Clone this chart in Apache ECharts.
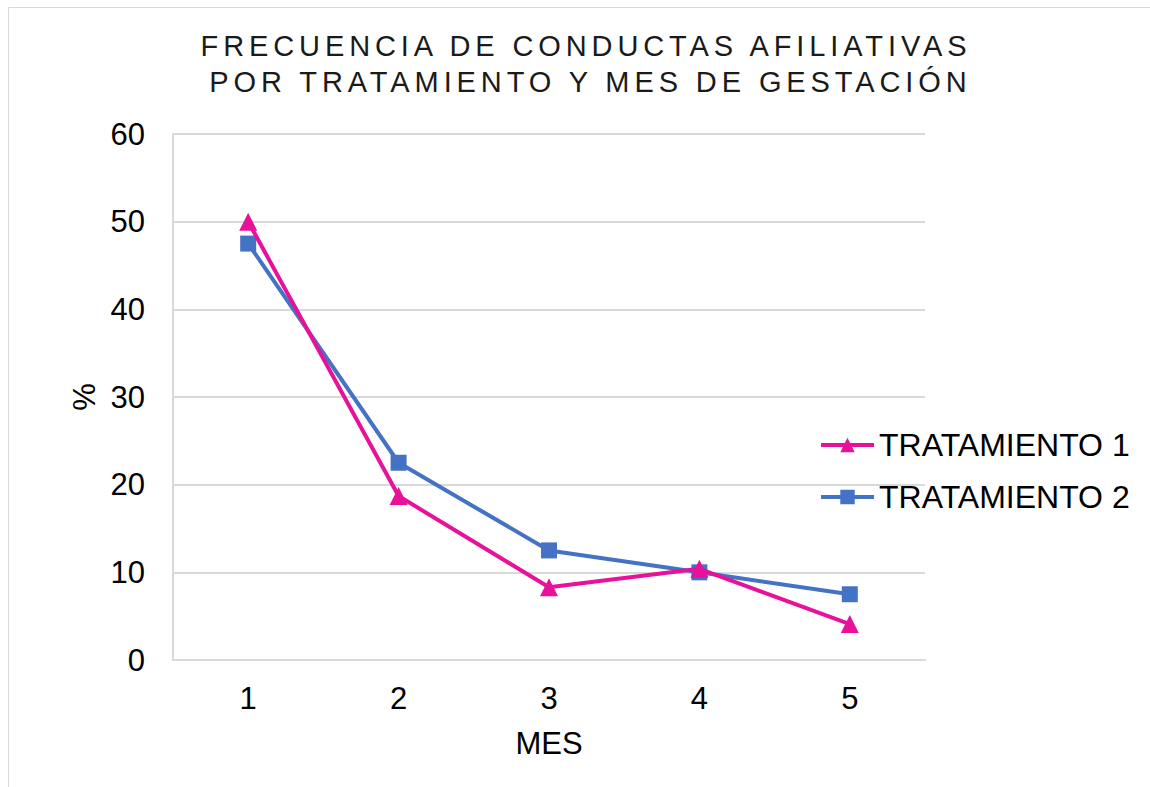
<!DOCTYPE html>
<html><head><meta charset="utf-8">
<script src="https://cdn.jsdelivr.net/npm/echarts@6/dist/echarts.min.js"></script>
<style>html,body{margin:0;padding:0;background:#fff}#c{width:1150px;height:787px}</style>
</head><body><div id="c"></div>
<script>
const categories = ['1','2','3','4','5'];
const tratamiento1 = [50, 18.7, 8.3, 10.4, 4.1];
const tratamiento2 = [47.5, 22.5, 12.5, 10, 7.5];
const seriesNames = ['TRATAMIENTO 1','TRATAMIENTO 2'];
const titleLines = ['FRECUENCIA DE CONDUCTAS AFILIATIVAS', ' POR TRATAMIENTO Y MES DE GESTACIÓN'];

const font = 'Liberation Sans, Arial, sans-serif';
const chart = echarts.init(document.getElementById('c'), null, {renderer:'svg'});
chart.setOption({
  animation:false,
  backgroundColor:'#fff',
  graphic:[
    {type:'rect', shape:{x:8.5,y:7.5,width:1160,height:800}, style:{fill:'none', stroke:'#d9d9d9', lineWidth:1}, silent:true},
    {type:'text', x:586, y:46, style:{text:titleLines[0], fontFamily:font, fontSize:29, fill:'#1a1a1a', align:'center', verticalAlign:'middle'}},
    {type:'text', x:584, y:81.5, style:{text:titleLines[1], fontFamily:font, fontSize:29, fill:'#1a1a1a', align:'center', verticalAlign:'middle'}}
  ],
  grid:{left:173, right:225, top:134, bottom:127, containLabel:false},
  legend:{orient:'vertical', left:814, top:424, itemWidth:53, itemHeight:18, itemGap:20,
    lineStyle:{width:4},
    textStyle:{fontFamily:font, fontSize:32, color:'#000'}, data:seriesNames},
  xAxis:{type:'category', data:categories, boundaryGap:true,
    name:'MES', nameLocation:'middle', nameGap:68, nameTextStyle:{fontFamily:font, fontSize:31, color:'#000'},
    axisLine:{lineStyle:{color:'#d9d9d9', width:2}}, axisTick:{show:false},
    axisLabel:{fontFamily:font, fontSize:31, color:'#000', margin:23}},
  yAxis:{type:'value', min:0, max:60, interval:10,
    name:'%', nameLocation:'middle', nameGap:73, nameRotate:90, nameTextStyle:{fontFamily:font, fontSize:31, color:'#000'},
    axisLine:{show:true, lineStyle:{color:'#d9d9d9', width:2}}, axisTick:{show:false},
    splitLine:{lineStyle:{color:'#d9d9d9', width:2}},
    axisLabel:{fontFamily:font, fontSize:31, color:'#000', margin:28}},
  series:[
    {name:seriesNames[0], type:'line', data:tratamiento1, symbol:'triangle', symbolSize:18,
      lineStyle:{color:'#E8119A', width:4}, itemStyle:{color:'#E8119A'}, z:3},
    {name:seriesNames[1], type:'line', data:tratamiento2, symbol:'rect', symbolSize:16,
      lineStyle:{color:'#4472C4', width:4}, itemStyle:{color:'#4472C4'}, z:2}
  ]
});
// widen title letter spacing like the reference
document.querySelectorAll('#c svg text').forEach(t => {
  const s = t.textContent;
  if (s.indexOf('FRECUENCIA') >= 0 || s.indexOf('GESTACI') >= 0) {
    t.setAttribute('letter-spacing', '4.9');
  }
});
</script></body></html>
